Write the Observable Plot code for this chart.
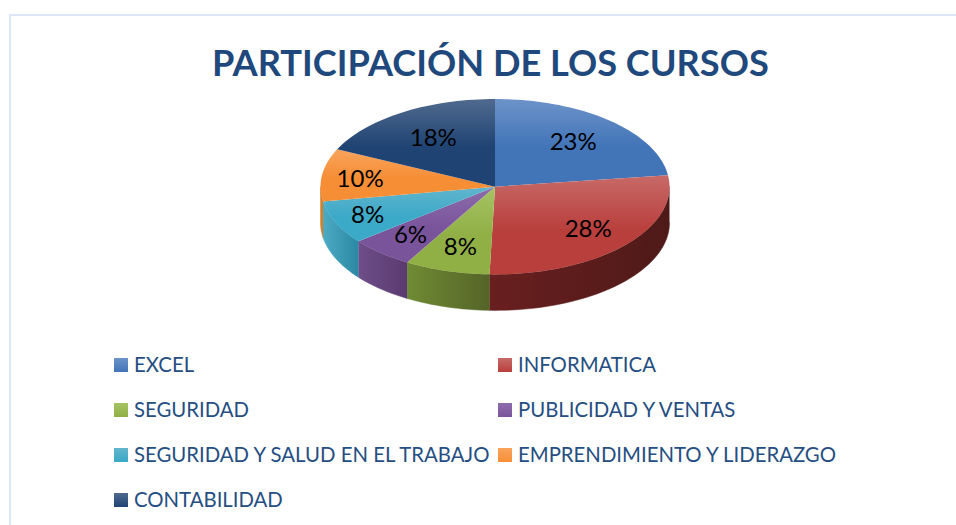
<!DOCTYPE html>
<html lang="es">
<head>
<meta charset="utf-8">
<title>Participación de los cursos</title>
<script src="https://cdn.jsdelivr.net/npm/d3@7"></script>
<script src="https://cdn.jsdelivr.net/npm/@observablehq/plot@0.6"></script>
<style>
  html, body { margin: 0; padding: 0; background: #fff; }
  body { position: relative; width: 956px; height: 525px; overflow: hidden; font-family: Lato, sans-serif; color: #254e82; }
  #frame { position: absolute; left: 9px; top: 14px; right: -4px; bottom: -4px; border: 2px solid #dbe6f6; box-sizing: border-box; }
  #title { position: absolute; left: 212px; top: 0; width: 556px; height: 85px; line-height: 124px; text-align: center; white-space: nowrap; font-size: 36.2px; font-weight: 700; color: #1f497d; }
  #chart { position: absolute; left: 0; top: 85px; }
  #chart svg { display: block; }
  #legend { position: absolute; left: 114px; top: 342px; display: grid; grid-template-columns: 384px 400px; grid-auto-rows: 45px; font-size: 20.35px; }
  .item { display: flex; align-items: center; white-space: nowrap; }
  .sw { width: 14px; height: 14px; margin-right: 6px; flex: none; }
  .name { position: relative; top: -1px; }
</style>
</head>
<body>
<div id="frame"></div>
<div id="title">PARTICIPACIÓN DE LOS CURSOS</div>
<div id="chart"></div>
<div id="legend"></div>
<script>
const categories = ["EXCEL", "INFORMATICA", "SEGURIDAD", "PUBLICIDAD Y VENTAS", "SEGURIDAD Y SALUD EN EL TRABAJO", "EMPRENDIMIENTO Y LIDERAZGO", "CONTABILIDAD"];
const shares = [22.9, 27.6, 7.9, 5.9, 8.0, 9.7, 18.0];
const percentLabels = ["23%", "28%", "8%", "6%", "8%", "10%", "18%"];
const topLight = ["#6c93c9", "#c76a68", "#a6c363", "#8c6cab", "#62b5cd", "#f9a45c", "#506a8e"];
const topBase = ["#4274b8", "#b93f3c", "#90b046", "#7a549b", "#3ba9c8", "#f68e36", "#1f4373"];
const sideLeft = ["#000", "#691f1f", "#6f8b34", "#6f4e89", "#4dabc4", "#d57f28", "#000"];
const sideRight = ["#000", "#4e1a18", "#556427", "#5a3a6f", "#2a88a4", "#d57f28", "#000"];
const labelReach = [0.68, 0.72, 0.72, 0.74, 0.8, 0.78, 0.66];
const labelLift = [0, 0, 0, 0, 0, 2, 0];

const tilt = 36 / 87.7;   // pie thickness in units of the vertical radius
const frontStart = 25, frontEnd = 75;

const point = (pct, drop = 0, reach = 1) => {
  const a = (pct / 100) * 2 * Math.PI;
  return {x: reach * Math.sin(a), y: reach * Math.cos(a) - drop};
};
const arc = (from, to, drop = 0) => {
  const n = Math.max(2, Math.ceil((to - from) * 2));
  return d3.range(n + 1).map((i) => point(from + ((to - from) * i) / n, drop));
};

let running = 0;
const slices = shares.map((v, i) => {
  const s = {i, name: categories[i], from: running, to: running + v};
  running += v;
  return s;
});

const defs = () => {
  const d = d3.create("svg:defs");
  slices.forEach(({i}) => {
    const t = d.append("linearGradient").attr("id", `top${i}`).attr("x1", 0).attr("y1", 0).attr("x2", 0).attr("y2", 1);
    t.append("stop").attr("offset", 0).attr("stop-color", topLight[i]);
    t.append("stop").attr("offset", 0.55).attr("stop-color", topBase[i]);
    t.append("stop").attr("offset", 1).attr("stop-color", topBase[i]);
    const s = d.append("linearGradient").attr("id", `side${i}`).attr("x1", 0).attr("y1", 0).attr("x2", 1).attr("y2", 0);
    s.append("stop").attr("offset", 0).attr("stop-color", sideLeft[i]);
    s.append("stop").attr("offset", 1).attr("stop-color", sideRight[i]);
  });
  return d.node();
};

const sideMarks = slices
  .filter((s) => s.to > frontStart && s.from < frontEnd)
  .map((s) => {
    const a = Math.max(s.from, frontStart), b = Math.min(s.to, frontEnd);
    const outline = [...arc(a, b), ...arc(a, b, tilt).reverse()];
    return Plot.line(outline, {x: "x", y: "y", fill: `url(#side${s.i})`, stroke: `url(#side${s.i})`, strokeWidth: 0.5});
  });

const topMarks = slices.map((s) => {
  const outline = [point(0, 0, 0), ...arc(s.from, s.to), point(0, 0, 0)];
  return Plot.line(outline, {x: "x", y: "y", fill: `url(#top${s.i})`, stroke: "none"});
});

const labels = slices.map((s) => {
  const p = point((s.from + s.to) / 2, 0, labelReach[s.i]);
  return {x: p.x, y: p.y - labelLift[s.i] / 87.7, text: percentLabels[s.i]};
});

const chart = Plot.plot({
  width: 956,
  height: 240,
  margin: 0,
  x: {axis: null, domain: [-1, 1], range: [494.5 - 174.5, 494.5 + 174.5]},
  y: {axis: null, domain: [1, -1], range: [13.5, 13.5 + 175.4]},
  style: {background: "transparent", overflow: "visible"},
  marks: [
    defs,
    ...sideMarks,
    ...topMarks,
    Plot.text(labels, {x: "x", y: "y", text: "text", fontSize: 24, fontFamily: "Lato, sans-serif", fill: "#000", lineAnchor: "middle"})
  ]
});
document.getElementById("chart").append(chart);

const legend = d3.select("#legend");
categories.forEach((name, i) => {
  const item = legend.append("div").attr("class", "item");
  item.append("span").attr("class", "sw").style("background", `linear-gradient(${topLight[i]}, ${topBase[i]})`);
  item.append("span").attr("class", "name").text(name);
});
</script>
</body>
</html>
